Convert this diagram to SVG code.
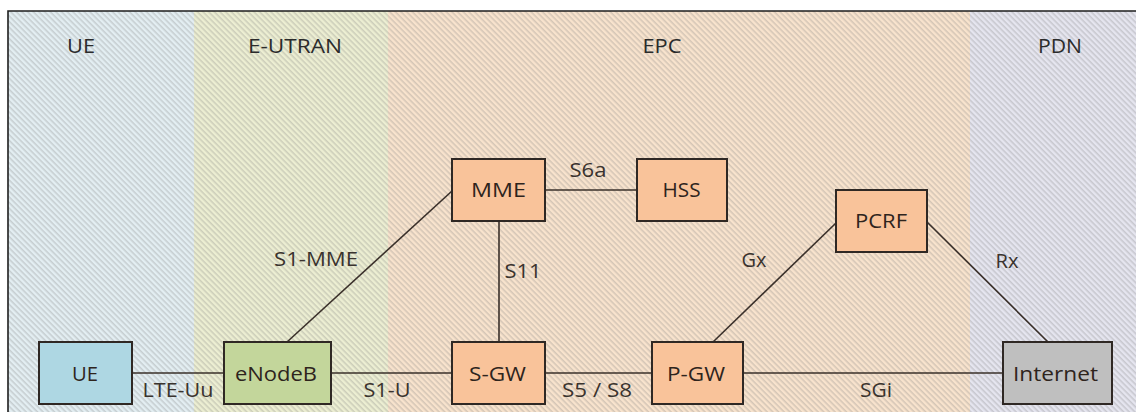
<svg xmlns="http://www.w3.org/2000/svg" width="1136" height="412" viewBox="0 0 1136 412">
<style>
text{font-family:"Open Sans","Liberation Sans",sans-serif;font-size:20.5px;text-anchor:middle}
.zl{fill:#2b2b2b}
.nt{fill:#2e241d}
.el{fill:#3a332e}
.box{stroke:#2f2824;stroke-width:2}
.ln{stroke:#3a302a;stroke-width:1.6;fill:none}
</style>
<defs>
<pattern id="hatch" width="4" height="4" patternUnits="userSpaceOnUse" patternTransform="rotate(45)">
<rect x="0" y="0" width="4" height="1.6" fill="#7a7a7a" fill-opacity="0.28"/>
</pattern>
</defs>
<rect x="0" y="0" width="1136" height="412" fill="#ffffff"/>
<g id="zones">
<rect x="8" y="11" width="186" height="401" fill="#e3eef2"/>
<rect x="194" y="11" width="194" height="401" fill="#eceed2"/>
<rect x="388" y="11" width="582" height="401" fill="#f8e3cd"/>
<rect x="970" y="11" width="166" height="401" fill="#e5e5ef"/>
<rect x="8" y="11" width="1128" height="401" fill="url(#hatch)"/>
<path d="M8,412 V11 H1136" fill="none" stroke="#1e1e1e" stroke-width="1.6"/>
<text class="zl" x="81" y="53" textLength="28" lengthAdjust="spacingAndGlyphs">UE</text>
<text class="zl" x="295" y="53" textLength="94" lengthAdjust="spacingAndGlyphs">E-UTRAN</text>
<text class="zl" x="662" y="53" textLength="39" lengthAdjust="spacingAndGlyphs">EPC</text>
<text class="zl" x="1060" y="53" textLength="44" lengthAdjust="spacingAndGlyphs">PDN</text>
</g>
<g id="connectors">
<line class="ln" x1="132" y1="373" x2="224" y2="373"/>
<line class="ln" x1="331" y1="373" x2="452" y2="373"/>
<line class="ln" x1="545" y1="373" x2="652" y2="373"/>
<line class="ln" x1="743" y1="373" x2="1003" y2="373"/>
<line class="ln" x1="287" y1="342" x2="452" y2="191"/>
<line class="ln" x1="499" y1="221" x2="499" y2="342"/>
<line class="ln" x1="545" y1="190" x2="637" y2="190"/>
<line class="ln" x1="713" y1="342" x2="836" y2="223"/>
<line class="ln" x1="927" y1="222" x2="1048" y2="342"/>
<text class="el" x="178" y="397" textLength="71" lengthAdjust="spacingAndGlyphs">LTE-Uu</text>
<text class="el" x="387" y="397" textLength="47" lengthAdjust="spacingAndGlyphs">S1-U</text>
<text class="el" x="597" y="397" textLength="70" lengthAdjust="spacingAndGlyphs">S5 / S8</text>
<text class="el" x="876" y="397" textLength="32" lengthAdjust="spacingAndGlyphs">SGi</text>
<text class="el" x="316" y="266" textLength="84" lengthAdjust="spacingAndGlyphs">S1-MME</text>
<text class="el" x="523" y="278" textLength="37" lengthAdjust="spacingAndGlyphs">S11</text>
<text class="el" x="588" y="177" textLength="37" lengthAdjust="spacingAndGlyphs">S6a</text>
<text class="el" x="754" y="267" textLength="25" lengthAdjust="spacingAndGlyphs">Gx</text>
<text class="el" x="1007" y="268" textLength="23" lengthAdjust="spacingAndGlyphs">Rx</text>
</g>
<g id="node-ue"><rect class="box" x="39" y="342" width="93" height="62" fill="#aed7e3"/><text class="nt" x="85" y="381" textLength="26" lengthAdjust="spacingAndGlyphs">UE</text></g>
<g id="node-enodeb"><rect class="box" x="224" y="342" width="107" height="62" fill="#c3d69b"/><text class="nt" x="276" y="381" textLength="82" lengthAdjust="spacingAndGlyphs">eNodeB</text></g>
<g id="node-sgw"><rect class="box" x="452" y="342" width="93" height="62" fill="#f9c39a"/><text class="nt" x="497.5" y="381" textLength="57" lengthAdjust="spacingAndGlyphs">S-GW</text></g>
<g id="node-pgw"><rect class="box" x="652" y="342" width="91" height="62" fill="#f9c39a"/><text class="nt" x="696" y="381" textLength="58" lengthAdjust="spacingAndGlyphs">P-GW</text></g>
<g id="node-internet"><rect class="box" x="1003" y="342" width="109" height="62" fill="#bfbfbf"/><text class="nt" x="1055.5" y="381" textLength="85" lengthAdjust="spacingAndGlyphs">Internet</text></g>
<g id="node-mme"><rect class="box" x="452" y="159" width="93" height="62" fill="#f9c39a"/><text class="nt" x="498.5" y="197" textLength="55" lengthAdjust="spacingAndGlyphs">MME</text></g>
<g id="node-hss"><rect class="box" x="637" y="159" width="90" height="62" fill="#f9c39a"/><text class="nt" x="681.5" y="197" textLength="38" lengthAdjust="spacingAndGlyphs">HSS</text></g>
<g id="node-pcrf"><rect class="box" x="836" y="190" width="91" height="62" fill="#f9c39a"/><text class="nt" x="881" y="228" textLength="52" lengthAdjust="spacingAndGlyphs">PCRF</text></g>
</svg>
